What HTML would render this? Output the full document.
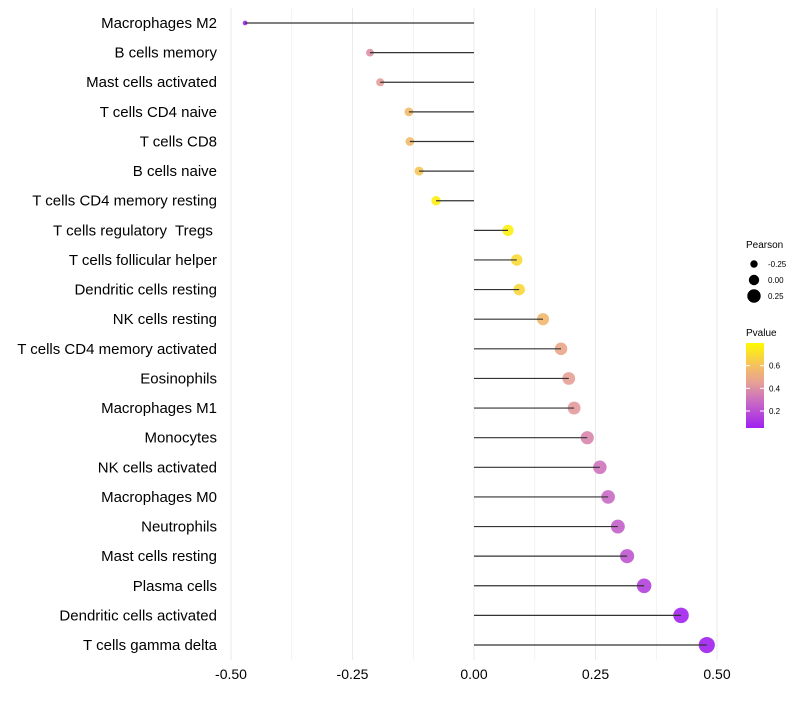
<!DOCTYPE html>
<html><head><meta charset="utf-8"><style>
body{margin:0;background:#fff;font-family:"Liberation Sans",sans-serif}
text{white-space:pre}
</style></head><body>
<svg id="c" width="800" height="700" xmlns="http://www.w3.org/2000/svg"></svg>
<script>
const categories=["Macrophages M2","B cells memory","Mast cells activated","T cells CD4 naive","T cells CD8","B cells naive","T cells CD4 memory resting","T cells regulatory  Tregs ","T cells follicular helper","Dendritic cells resting","NK cells resting","T cells CD4 memory activated","Eosinophils","Macrophages M1","Monocytes","NK cells activated","Macrophages M0","Neutrophils","Mast cells resting","Plasma cells","Dendritic cells activated","T cells gamma delta"];
const pearson=[-0.471,-0.214,-0.193,-0.134,-0.132,-0.113,-0.078,0.070,0.088,0.093,0.142,0.179,0.195,0.206,0.233,0.259,0.276,0.296,0.315,0.350,0.426,0.479];
const pvalue=[0.03,0.40,0.44,0.57,0.57,0.62,0.76,0.77,0.69,0.68,0.56,0.48,0.45,0.43,0.37,0.31,0.28,0.25,0.22,0.15,0.06,0.04];
const xTicks=[-0.5,-0.25,0,0.25,0.5];
const xTickLabels=["-0.50","-0.25","0.00","0.25","0.50"];
const sizeLegend=[-0.25,0,0.25];
const sizeLegendLabels=["-0.25","0.00","0.25"];
const pTicks=[0.2,0.4,0.6];
const NS="http://www.w3.org/2000/svg";
const svg=document.getElementById('c');
const x=v=>474+v*486;
const y=i=>23+i*29.62;
const r=v=>5.2+6*v;
const stops=[[0.05,[160,32,240]],[0.3,[204,112,192]],[0.45,[230,160,150]],[0.6,[245,192,96]],[0.8,[255,250,0]]];
function col(p){p=Math.max(0.05,Math.min(0.8,p));for(let k=0;k<stops.length-1;k++){const a=stops[k],b=stops[k+1];if(p<=b[0]){const t=(p-a[0])/(b[0]-a[0]);return 'rgb('+a[1].map((c,j)=>Math.round(c+(b[1][j]-c)*t)).join(',')+')';}}return 'rgb(255,250,0)';}
function el(t,a,txt){const e=document.createElementNS(NS,t);for(const k in a)e.setAttribute(k,a[k]);if(txt!==undefined)e.textContent=txt;svg.appendChild(e);return e;}
for(let v=-0.5;v<=0.5001;v+=0.125){const g=el('line',{x1:x(v),x2:x(v),y1:8,y2:660,stroke:'#ebebeb','stroke-width':Math.abs(v*4-Math.round(v*4))<1e-6?1.1:0.6});

}
xTicks.forEach((v,i)=>{const t=el('text',{x:x(v),y:679,'font-size':14,'text-anchor':'middle',fill:'#000'},xTickLabels[i]);

});
categories.forEach((c,i)=>{
const t=el('text',{x:217,y:y(i)+5,'font-size':15,'text-anchor':'end',fill:'#000'},c);


const p=el('circle',{cx:x(pearson[i]),cy:y(i),r:r(pearson[i]),fill:col(pvalue[i]),'fill-opacity':0.9});


const l=el('line',{x1:x(0),x2:x(pearson[i]),y1:y(i),y2:y(i),stroke:'#333','stroke-width':1.2});


});
const lt=el('text',{x:746,y:248,'font-size':10},'Pearson');


sizeLegend.forEach((v,i)=>{const cy=264+i*16;
const c=el('circle',{cx:754,cy:cy,r:r(v),fill:'#000'});


const t=el('text',{x:768,y:cy+3,'font-size':8},sizeLegendLabels[i]);

});
const pt=el('text',{x:746,y:336,'font-size':10},'Pvalue');


const defs=el('defs',{});const lg=document.createElementNS(NS,'linearGradient');lg.setAttribute('id','g');lg.setAttribute('x1','0');lg.setAttribute('y1','1');lg.setAttribute('x2','0');lg.setAttribute('y2','0');defs.appendChild(lg);
stops.forEach(s=>{const st=document.createElementNS(NS,'stop');st.setAttribute('offset',((s[0]-0.05)/0.75));st.setAttribute('stop-color','rgb('+s[1].join(',')+')');lg.appendChild(st);});
const py=p=>428-(p-0.05)/0.75*85;
const bar=el('rect',{x:746,y:343,width:18,height:85,fill:'url(#g)'});


pTicks.forEach(p=>{el('line',{x1:746,x2:750,y1:py(p),y2:py(p),stroke:'#fff'});el('line',{x1:760,x2:764,y1:py(p),y2:py(p),stroke:'#fff'});
const t=el('text',{x:769,y:py(p)+3,'font-size':8},p.toFixed(1));

});
</script>
</body></html>
